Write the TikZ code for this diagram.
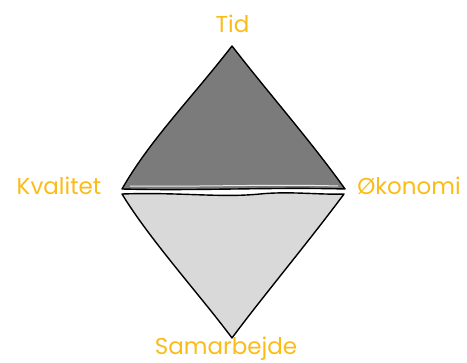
\documentclass[tikz,border=0pt]{standalone}
\usepackage{fontspec}
\setmainfont{Poppins}
\definecolor{lbl}{HTML}{FBBC18}
\definecolor{darkfill}{HTML}{7B7B7B}
\definecolor{lightfill}{HTML}{D9D9D9}
\begin{document}
\begin{tikzpicture}[x=1pt,y=-1pt,
  lab/.style={text=lbl, font=\fontsize{23}{25}\selectfont, anchor=base, inner sep=0pt},
  edge/.style={draw=black, line width=1.4pt, line join=round, line cap=round}]
\useasboundingbox (0,0) rectangle (467,363);
% upper triangle
\coordinate (top) at (232,46);
\coordinate (ul) at (122,189);
\coordinate (ur) at (345,189);
\path[edge, fill=darkfill] (top) .. controls (190,100) and (150,140) .. (ul)
  .. controls (200,191) and (270,187) .. (ur)
  .. controls (310,140) and (270,95) .. (top) -- cycle;
\draw[white!85!gray, line width=1pt] (130,186) .. controls (200,187) and (270,184) .. (338,186);
% lower triangle
\coordinate (ll) at (122,194);
\coordinate (lr) at (344,194);
\coordinate (bot) at (232,338);
\path[edge, fill=lightfill] (ll) .. controls (180,192) and (220,198) .. (260,194)
  .. controls (290,191) and (320,195) .. (lr)
  .. controls (310,240) and (260,300) .. (bot)
  .. controls (200,295) and (150,240) .. (ll) -- cycle;
% labels
\node[lab] (tid) at (232.5,33) {Tid};
\node[lab] (kval) at (59,195) {Kvalitet};
\node[lab] (oko) at (409,195) {Økonomi};
\node[lab] (sam) at (226,355) {Samarbejde};
\end{tikzpicture}
\end{document}
